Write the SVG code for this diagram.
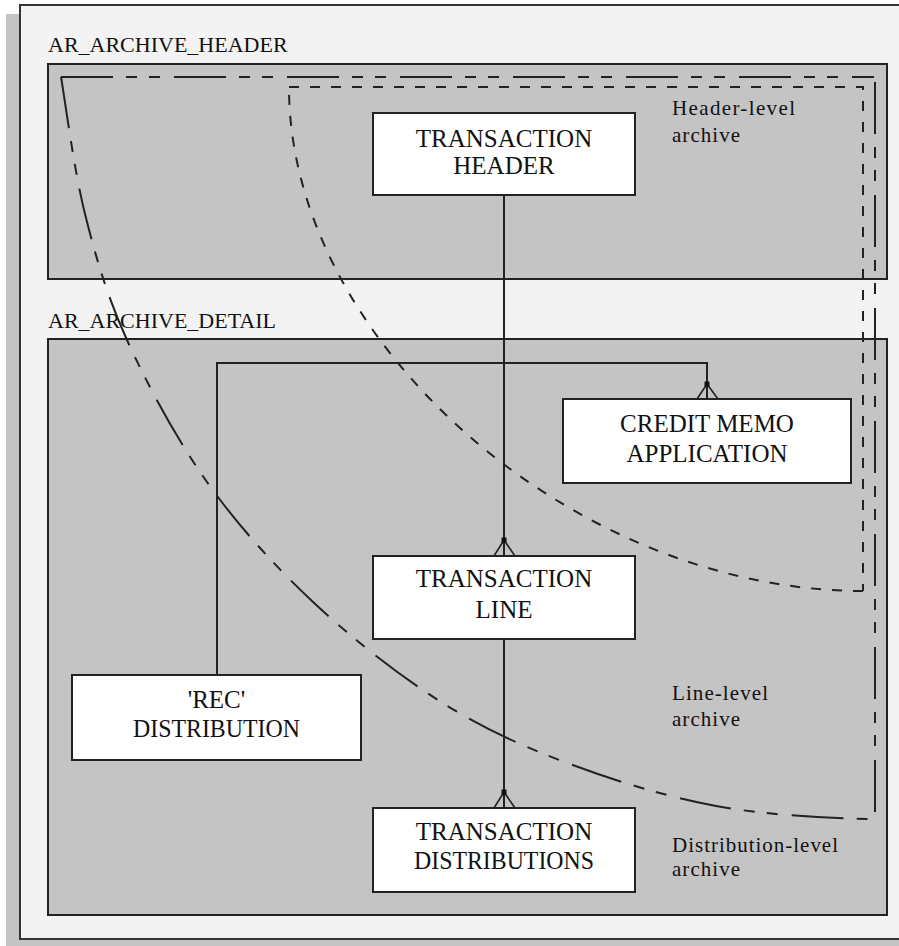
<svg xmlns="http://www.w3.org/2000/svg" width="899" height="946" viewBox="0 0 899 946">
  <style>
    .frame { fill: #f3f3f3; stroke: #333333; stroke-width: 2; }
    .shadow { fill: #c4c4c4; }
    .region { fill: #c4c4c4; stroke: #222222; stroke-width: 2; }
    .entity { fill: #ffffff; stroke: #222222; stroke-width: 2; }
    text { font-family: "Times New Roman", "Liberation Serif", "DejaVu Serif", serif; fill: #111111; }
    .label { font-size: 22px; }
    .note { font-size: 21px; }
    .name { font-size: 25px; text-anchor: middle; }
    .rel { fill: none; stroke: #222222; stroke-width: 2; }
    .foot { fill: none; stroke: #222222; stroke-width: 1.6; }
    .dot { fill: #111111; }
    .long { fill: none; stroke: #222222; stroke-width: 2; stroke-dasharray: 52 13 11 12 11 14; }
    .short { fill: none; stroke: #222222; stroke-width: 2; stroke-dasharray: 10 11; }
  </style>

  <!-- page frame with drop shadow -->
  <rect class="shadow" x="6" y="14" width="900" height="940"/>
  <rect class="frame" x="20" y="5" width="900" height="934"/>

  <!-- archive table regions -->
  <g id="ar_archive_header">
    <rect class="region" x="48" y="64" width="839" height="215"/>
    <text class="label" x="48" y="52">AR_ARCHIVE_HEADER</text>
  </g>
  <g id="ar_archive_detail">
    <rect class="region" x="48" y="339" width="839" height="576"/>
    <text class="label" x="48" y="328">AR_ARCHIVE_DETAIL</text>
  </g>

  <!-- archive level boundaries -->
  <g id="boundaries">
    <path class="short" d="M289,87 H863 V591"/>
    <path class="short" d="M863,591 C573,591 289,341.5 289,87"/>
    <path class="long" d="M61,77 H874"/>
    <path class="long" d="M875,82 V819"/>
    <path class="long" d="M61,77 C65,99.8 74,170.2 85,214 C96,257.8 106.7,295.3 127,340 C147.3,384.7 176.2,438.5 207,482 C237.8,525.5 273.5,564.7 312,601 C350.5,637.3 396.3,673.3 438,700 C479.7,726.7 515.7,743.3 562,761 C608.3,778.7 663.8,796.3 716,806 C768.2,815.7 840,819 875,819"/>
  </g>

  <g id="level_notes">
    <text class="note" x="672" y="115" textLength="123">Header-level</text>
    <text class="note" x="672" y="142" textLength="68">archive</text>
    <text class="note" x="672" y="700" textLength="96">Line-level</text>
    <text class="note" x="672" y="726" textLength="68">archive</text>
    <text class="note" x="672" y="852" textLength="166">Distribution-level</text>
    <text class="note" x="672" y="876" textLength="68">archive</text>
  </g>

  <!-- relationships -->
  <g id="connectors">
    <path class="rel" d="M504,195 V556"/>
    <path class="foot" d="M504,540 L494,556 M504,540 L515,556"/>
    <rect class="dot" x="501.5" y="537.5" width="5" height="5"/>

    <path class="rel" d="M217,675 V363 H707 V399"/>
    <path class="foot" d="M707,384 L697,399 M707,384 L718,399"/>
    <rect class="dot" x="704.5" y="381.5" width="5" height="5"/>

    <path class="rel" d="M504,639 V808"/>
    <path class="foot" d="M504,792 L494,808 M504,792 L515,808"/>
    <rect class="dot" x="501.5" y="789.5" width="5" height="5"/>
  </g>

  <!-- entities -->
  <g id="transaction_header">
    <rect class="entity" x="373" y="113" width="262" height="82"/>
    <text class="name" x="504" y="147">TRANSACTION</text>
    <text class="name" x="504" y="174">HEADER</text>
  </g>
  <g id="credit_memo_application">
    <rect class="entity" x="563" y="399" width="288" height="84"/>
    <text class="name" x="707" y="432">CREDIT MEMO</text>
    <text class="name" x="707" y="462">APPLICATION</text>
  </g>
  <g id="transaction_line">
    <rect class="entity" x="373" y="556" width="262" height="83"/>
    <text class="name" x="504" y="587">TRANSACTION</text>
    <text class="name" x="504" y="618">LINE</text>
  </g>
  <g id="rec_distribution">
    <rect class="entity" x="72" y="675" width="289" height="85"/>
    <text class="name" x="216.5" y="708">'REC'</text>
    <text class="name" x="216.5" y="737" textLength="167" lengthAdjust="spacingAndGlyphs">DISTRIBUTION</text>
  </g>
  <g id="transaction_distributions">
    <rect class="entity" x="373" y="808" width="262" height="84"/>
    <text class="name" x="504" y="840">TRANSACTION</text>
    <text class="name" x="504" y="869" textLength="180" lengthAdjust="spacingAndGlyphs">DISTRIBUTIONS</text>
  </g>
</svg>
